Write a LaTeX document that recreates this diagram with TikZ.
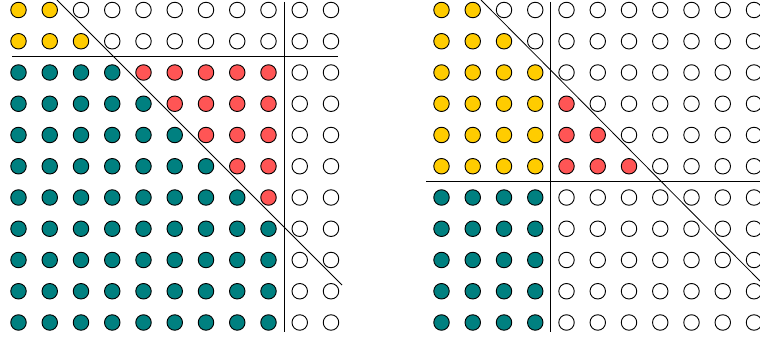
\documentclass[tikz,border=0pt]{standalone}
\definecolor{dotY}{HTML}{FFCC00}
\definecolor{dotT}{HTML}{008080}
\definecolor{dotR}{HTML}{FF5555}
\definecolor{dotW}{HTML}{FFFFFF}
\tikzset{
  dot/.style={circle, draw=black, line width=0.9pt, minimum size=15.5pt, inner sep=0pt},
  sepline/.style={draw=black, line width=0.8pt}
}
\begin{document}
\begin{tikzpicture}[x=1pt,y=-1pt]
\useasboundingbox (0,0) rectangle (760,339);
% left grid
\foreach \r/\ny/\nt/\nr in {0/2/0/0,1/3/0/0,2/0/4/5,3/0/5/4,4/0/6/3,5/0/7/2,6/0/8/1,7/0/9/0,8/0/9/0,9/0/9/0,10/0/9/0}{
  \pgfmathtruncatemacro\ta{\ny+\nt}
  \pgfmathtruncatemacro\tb{\ny+\nt+\nr}
  \foreach \c in {0,...,10}{
    \ifnum\c<\ny \def\fc{dotY}\else\ifnum\c<\ta \def\fc{dotT}\else\ifnum\c<\tb \def\fc{dotR}\else\def\fc{dotW}\fi\fi\fi
    \node[dot, fill=\fc] (L-\r-\c) at ({18.5+31.25*\c},{10+31.25*\r}) {};
  }
}
% right grid
\foreach \r/\ny/\nt/\nr in {0/2/0/0,1/3/0/0,2/4/0/0,3/4/0/1,4/4/0/2,5/4/0/3,6/0/4/0,7/0/4/0,8/0/4/0,9/0/4/0,10/0/4/0}{
  \pgfmathtruncatemacro\ta{\ny+\nt}
  \pgfmathtruncatemacro\tb{\ny+\nt+\nr}
  \foreach \c in {0,...,10}{
    \ifnum\c<\ny \def\fc{dotY}\else\ifnum\c<\ta \def\fc{dotT}\else\ifnum\c<\tb \def\fc{dotR}\else\def\fc{dotW}\fi\fi\fi
    \node[dot, fill=\fc] (R-\r-\c) at ({441.5+31.25*\c},{10+31.25*\r}) {};
  }
}
% separator lines, left
\coordinate (LH1) at (12,56.5);
\coordinate (LH2) at (338,56.5);
\coordinate (LV1) at (284.8,2);
\coordinate (LV2) at (284.8,332);
\coordinate (LD1) at (57,0);
\coordinate (LD2) at (342,285);
\draw[sepline] (LH1) -- (LH2);
\draw[sepline] (LV1) -- (LV2);
\draw[sepline] (LD1) -- (LD2);
% separator lines, right
\coordinate (RH1) at (426,181.8);
\coordinate (RH2) at (760,181.8);
\coordinate (RV1) at (550.5,2);
\coordinate (RV2) at (550.5,332);
\coordinate (RD1) at (481,0);
\coordinate (RD2) at (760,281);
\draw[sepline] (RH1) -- (RH2);
\draw[sepline] (RV1) -- (RV2);
\draw[sepline] (RD1) -- (RD2);
\end{tikzpicture}
\end{document}
